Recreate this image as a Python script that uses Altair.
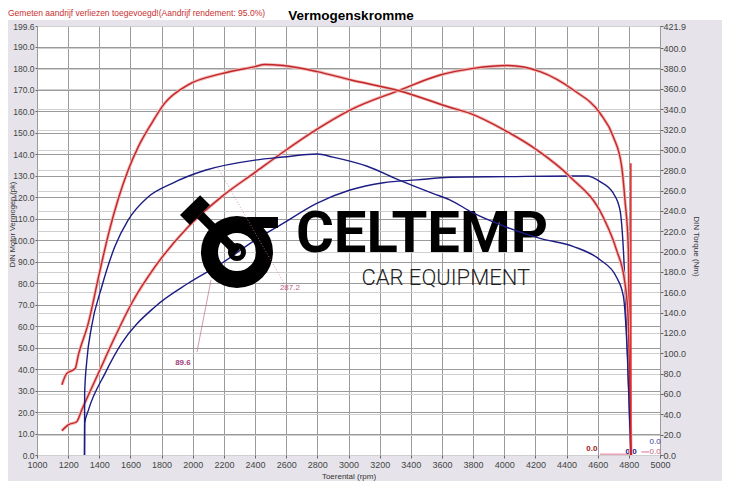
import altair as alt
import pandas as pd

# ---- data ----
rp_rpm = [1160, 1200, 1255, 1287, 1394, 1501, 1608, 1758, 1971, 2186, 2400, 2581, 2796, 3010, 3331, 3588, 3801, 4016, 4230, 4444, 4615, 4700, 4754, 4775, 4797, 4813]
rp_pk = [11.3, 14.0, 15.5, 20.9, 38.0, 55.0, 70.6, 87.6, 106.2, 120.2, 131.5, 141.0, 151.5, 160.5, 169.8, 176.8, 179.9, 181.2, 178.4, 169.8, 159.0, 148.1, 134.2, 118.7, 95.4, 0.0]

rt_rpm = [1160, 1190, 1245, 1265, 1330, 1395, 1460, 1520, 1585, 1650, 1735, 1820, 1970, 2185, 2400, 2460, 2580, 2800, 3010, 3330, 3650, 3780, 3995, 4210, 4420, 4635, 4720, 4775, 4795, 4813]
rt_nm = [69, 80, 85, 98, 130, 175, 218, 251, 280, 303, 326, 346, 364, 375, 382, 384, 383, 377, 369, 358, 342, 336, 320, 300, 274, 234, 202, 169, 136, 0]

bt_rpm = [1305, 1306, 1320, 1350, 1415, 1500, 1585, 1715, 1865, 2080, 2400, 2580, 2800, 2900, 3120, 3330, 3545, 3650, 3800, 4015, 4230, 4445, 4615, 4720, 4765, 4790, 4813]
bt_nm = [0, 61, 93, 126, 165, 205, 231, 254, 267, 280, 290, 293, 296, 293, 284, 270, 257, 251, 238, 224, 213, 205, 192, 175, 156, 100, 0]

bp_rpm = [1305, 1306, 1330, 1437, 1544, 1758, 1971, 2186, 2400, 2580, 2796, 3010, 3224, 3438, 3652, 4016, 4444, 4530, 4615, 4700, 4743, 4765, 4790, 4813]
bp_pk = [0, 14.7, 20.9, 38.0, 52.0, 69.0, 79.9, 89.2, 100.0, 107.8, 117.1, 123.3, 126.7, 128.0, 129.2, 129.5, 129.8, 129.8, 127.2, 121.8, 114.0, 95.4, 50.0, 0.0]

spike_rpm = [4813]
spike_nm = [287]

x_ticks = list(range(1000, 5001, 200))
left_ticks = [float(v) for v in range(0, 191, 10)] + [199.6]
right_ticks = [float(v) for v in range(0, 401, 20)] + [421.9]

RED = "#c0282a"
HALO = "#f4b8b8"
BLUE = "#1c1c84"
FONT = "Liberation Sans"

def series(rpm, vals):
    return pd.DataFrame({"rpm": rpm, "v": vals, "i": range(len(rpm))})

xs = alt.Scale(domain=[1000, 5000], nice=False, zero=False)
xax = alt.Axis(values=x_ticks, format="d", grid=True, gridColor="#9a9a9a", gridWidth=1,
               tickSize=3, tickColor="#666", labelPadding=2, labelFontSize=9, labelFont=FONT,
               labelColor="#444", domain=False, title="Toerental (rpm)", titleFontSize=8,
               titleFont=FONT, titleFontWeight="normal", titleColor="#333", titlePadding=3,
               labelFlush=False, labelOverlap=False)
ys_p = alt.Scale(domain=[0, 199.6], nice=False, zero=True)
ys_t = alt.Scale(domain=[0, 421.9], nice=False, zero=True)
yax_p = alt.Axis(values=left_ticks, format=".1f", grid=True, gridColor="#9a9a9a", tickSize=2,
                 tickColor="#666", labelPadding=1, labelFontSize=8.5, labelFont=FONT, labelColor="#444",
                 domain=False, labelOverlap=False, labelFlush=False,
                 title="DIN Motor Vermogen (pk)", titleFontSize=7.5, titleFont=FONT,
                 titleFontWeight="normal", titleColor="#333", titleX=-25, titleY=198,
                 titleAngle=-90, titleAlign="center", titleBaseline="middle")
yax_t = alt.Axis(values=right_ticks, format=".1f", grid=True, gridColor="#cfcfcf", tickSize=3,
                 tickColor="#666", labelPadding=0, labelFontSize=9, labelFont=FONT, labelColor="#444",
                 domain=False, orient="right", labelOverlap=False, labelFlush=False,
                 title="DIN Torque (Nm)", titleFontSize=8, titleFont=FONT,
                 titleFontWeight="normal", titleColor="#333", titleX=35, titleY=220,
                 titleAngle=90, titleAlign="center", titleBaseline="middle")

def X(field):
    return alt.X(field, scale=xs, axis=xax)

def YP(field):
    return alt.Y(field, scale=ys_p, axis=yax_p)

def YT(field):
    return alt.Y(field, scale=ys_t, axis=yax_t)

# white strip at top
top_strip = alt.Chart(pd.DataFrame({"a": [0]})).mark_rect(color="white").encode(
    x=alt.value(-29), x2=alt.value(685), y=alt.value(-18), y2=alt.value(-6))

def curve(df, yfun, color, width):
    return alt.Chart(df).mark_line(strokeWidth=width, interpolate="monotone", color=color).encode(
        x=X("rpm:Q"), y=yfun("v:Q"), order="i:Q")

rp_df = series(rp_rpm, rp_pk)
bp_df = series(bp_rpm, bp_pk)
rt_df = series(rt_rpm, rt_nm)
bt_df = series(bt_rpm, bt_nm)

# ---- logo (watermark), in data coordinates ----
ring_df = pd.DataFrame({"rpm": [2284], "v": [94.4]})
ring = alt.Chart(ring_df).mark_arc(radius=36, radius2=19, theta=0, theta2=6.2832, color="black").encode(
    x=X("rpm:Q"), y=YP("v:Q"))
pin = alt.Chart(ring_df).mark_arc(radius=9, radius2=4, theta=0, theta2=6.2832, color="black").encode(
    x=X("rpm:Q"), y=YP("v:Q"))
bar_df = pd.DataFrame({"x1": [2284], "x2": [2547], "y1": [110.7], "y2": [105.6]})
bar = alt.Chart(bar_df).mark_rect(color="black").encode(
    x=X("x1:Q"), x2="x2:Q", y=YP("y1:Q"), y2="y2:Q")
rod_df = pd.DataFrame({"x1": [2284], "x2": [2047], "y1": [94.4], "y2": [111.7]})
rod = alt.Chart(rod_df).mark_rule(color="black", strokeWidth=9).encode(
    x=X("x1:Q"), x2="x2:Q", y=YP("y1:Q"), y2="y2:Q")
head_df = pd.DataFrame({"x1": [1950], "x2": [2079], "y1": [109.3], "y2": [118.6]})
head = alt.Chart(head_df).mark_rule(color="black", strokeWidth=14, strokeCap="butt").encode(
    x=X("x1:Q"), x2="x2:Q", y=YP("y1:Q"), y2="y2:Q")
logo_df = pd.DataFrame({"rpm": [3472, 3625], "v": [102.4, 82.2], "t": ["CELTEMP", "CAR EQUIPMENT"]})
logo1 = alt.Chart(logo_df.iloc[[0]]).mark_text(font="Roboto", fontSize=58, fontWeight="bold",
                                               color="black", baseline="middle", align="center").encode(
    x=X("rpm:Q"), y=YP("v:Q"), text="t:N")
logo2 = alt.Chart(logo_df.iloc[[1]]).mark_text(font="Roboto", fontSize=22, fontWeight=300,
                                               color="#222", baseline="middle", align="center").encode(
    x=X("rpm:Q"), y=YP("v:Q"), text="t:N")

# ---- annotations ----
lead_df = pd.DataFrame({"x1": [2027, 2586], "x2": [2117, 2162], "y1": [47.9, 80.0], "y2": [81.4, 133.5]})
lead_a = alt.Chart(lead_df.iloc[[0]]).mark_rule(color="#c07fa0", strokeWidth=0.8).encode(
    x=X("x1:Q"), x2="x2:Q", y=YP("y1:Q"), y2="y2:Q")
lead_b = alt.Chart(lead_df.iloc[[1]]).mark_rule(color="#c07fa0", strokeWidth=0.8, strokeDash=[1, 2]).encode(
    x=X("x1:Q"), x2="x2:Q", y=YP("y1:Q"), y2="y2:Q")

ann_rpm = [1937, 2624, 4563, 4814, 4968, 4968]
ann_v = [42.8, 77.7, 2.8, 1.4, 6.0, 1.4]
ann_t = ["89.6", "287.2", "0.0", "0.0", "0.0", "0.0"]
ann_c = ["#a0407a", "#c06080", "#a02020", BLUE, "#3a3aa0", "#c06080"]
ann_w = ["bold", "normal", "bold", "bold", "normal", "normal"]
ann_df = pd.DataFrame({"rpm": ann_rpm, "v": ann_v, "t": ann_t, "c": ann_c, "w": ann_w})
ann_layers = []
for w in ["bold", "normal"]:
    sub = ann_df[ann_df.w == w]
    ann_layers.append(alt.Chart(sub).mark_text(font=FONT, fontSize=8, fontWeight=w, baseline="middle",
                                               align="center").encode(
        x=X("rpm:Q"), y=YP("v:Q"), text="t:N",
        color=alt.Color("c:N", scale=None)))
base_line_df = pd.DataFrame({"x1": [4615, 4880], "x2": [4813, 4930], "y1": [0.4, 1.4]})
base_lines = alt.Chart(base_line_df).mark_rule(color="#e07090", strokeWidth=1).encode(
    x=X("x1:Q"), x2="x2:Q", y=YP("y1:Q"))

# ---- titles ----
title_main = alt.Chart(pd.DataFrame({"t": ["Vermogenskromme"]})).mark_text(
    font=FONT, fontSize=13.5, fontWeight="bold", color="black", align="center", baseline="middle").encode(
    x=alt.value(314), y=alt.value(-10), text="t:N")
title_red = alt.Chart(pd.DataFrame({"t": ["Gemeten aandrijf verliezen toegevoegd!(Aandrijf rendement: 95.0%)"]})).mark_text(
    font=FONT, fontSize=8.5, color="#c83030", align="left", baseline="middle").encode(
    x=alt.value(-29), y=alt.value(-13), text="t:N")

power_layer = alt.layer(
    top_strip,
    curve(rp_df, YP, HALO, 3.2),
    curve(rp_df, YP, RED, 1.4),
    curve(bp_df, YP, BLUE, 1.4),
    ring, bar, rod, head, pin, logo1, logo2,
    lead_a, lead_b, base_lines, *ann_layers, title_main, title_red)

spike = alt.Chart(pd.DataFrame({"rpm": spike_rpm, "v": spike_nm})).mark_rule(color="#e02020", strokeWidth=1.5).encode(
    x=X("rpm:Q"), y=YT("v:Q"), y2=alt.datum(0))

torque_layer = alt.layer(
    curve(rt_df, YT, HALO, 3.2),
    curve(rt_df, YT, RED, 1.4),
    curve(bt_df, YT, BLUE, 1.4),
    spike)

chart = alt.layer(power_layer, torque_layer).resolve_scale(y="independent").properties(
    width=623, height=429, background="#e6e4ea",
    autosize=alt.AutoSizeParams(type="none"),
    padding={"left": 29, "top": 18, "right": 62, "bottom": 26},
).configure_view(fill="white", stroke="#aaaaaa")

chart.save("out.html", embed_options={"renderer": "svg", "actions": False})
